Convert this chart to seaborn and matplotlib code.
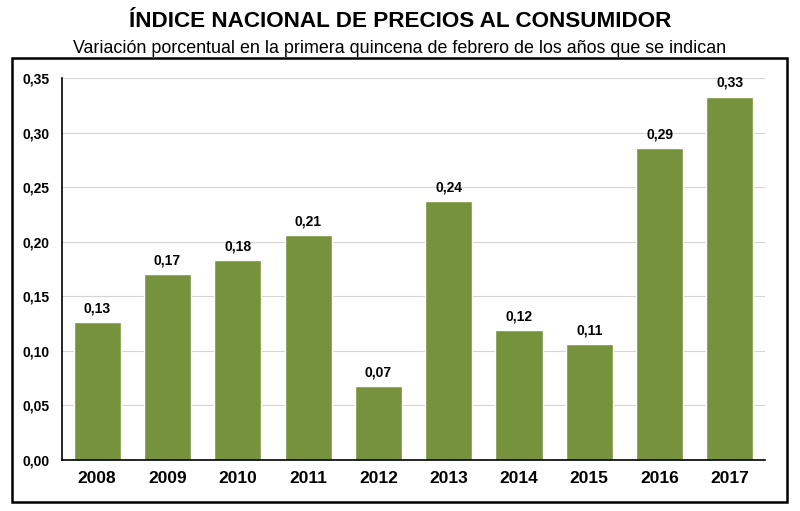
import matplotlib
matplotlib.use("Agg")
import matplotlib.pyplot as plt
import seaborn as sns
import pandas as pd
import numpy as np
from matplotlib.patches import Rectangle

years = ["2008", "2009", "2010", "2011", "2012", "2013", "2014", "2015", "2016", "2017"]
values = [0.126, 0.170, 0.183, 0.206, 0.068, 0.237, 0.119, 0.106, 0.286, 0.333]
y_ticks = [0.00, 0.05, 0.10, 0.15, 0.20, 0.25, 0.30, 0.35]

title = "ÍNDICE NACIONAL DE PRECIOS AL CONSUMIDOR"
subtitle = "Variación porcentual en la primera quincena de febrero de los años que se indican"

bar_color = "#77923C"

sns.set_style("white", {"text.color": "black", "xtick.color": "black",
                        "ytick.color": "black", "axes.labelcolor": "black"})
plt.rcParams['font.family'] = ['Liberation Sans', 'DejaVu Sans']

df = pd.DataFrame({"year": years, "value": values})

fig = plt.figure(figsize=(8, 5.11), dpi=100)
ax = fig.add_axes([0.0775, 0.0998, 0.8788, 0.7476])

sns.barplot(data=df, x="year", y="value", color=bar_color, saturation=1,
            width=0.67, ax=ax)

ax.set_ylim(0, 0.35)
ax.set_xlim(-0.5, len(years) - 0.5)
ax.set_yticks(y_ticks)
ax.set_yticklabels([f"{t:.2f}".replace(".", ",") for t in y_ticks],
                   fontsize=10, fontweight="bold")
ax.set_xticks(range(len(years)))
ax.set_xticklabels(years, fontsize=12.5, fontweight="bold")
ax.set_xticks(np.arange(-0.5, len(years)), minor=True)
ax.tick_params(axis="x", which="major", length=0, pad=8)
ax.tick_params(axis="x", which="minor", length=4, width=1, color="black", direction="out")
ax.tick_params(axis="y", length=4, width=1, color="black", direction="out", pad=5)
ax.set_xlabel("")
ax.set_ylabel("")

ax.yaxis.grid(True, color="#d4d4d4", linewidth=0.8)
ax.set_axisbelow(True)

for side in ["top", "right"]:
    ax.spines[side].set_visible(False)
for side in ["left", "bottom"]:
    ax.spines[side].set_color("black")
    ax.spines[side].set_linewidth(1.2)

for i, v in enumerate(values):
    ax.text(i, v + 0.006, f"{v:.2f}".replace(".", ","), ha="center", va="bottom",
            fontsize=10, fontweight="bold", color="black")

fig.patches.append(Rectangle((0.015, 0.0176), 0.969, 0.869, transform=fig.transFigure,
                             fill=False, edgecolor="black", linewidth=1.8))

fig.text(0.5, 0.958, title, ha="center", va="center", fontsize=16.2,
         fontweight="bold", color="black")
fig.text(0.5, 0.906, subtitle, ha="center", va="center", fontsize=12.9, color="black")

fig.savefig("out.png", dpi=100)
